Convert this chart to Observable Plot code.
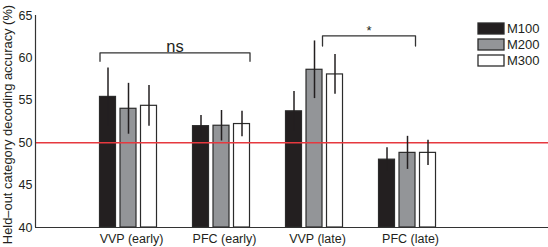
<!DOCTYPE html>
<html><head><meta charset="utf-8">
<script src="https://cdn.jsdelivr.net/npm/d3@7"></script>
<script src="https://cdn.jsdelivr.net/npm/@observablehq/plot@0.6"></script>
<style>
html,body{margin:0;padding:0;background:#fff;}
figure{margin:0;}
#wrap{position:relative;width:548px;height:247px;overflow:hidden;}
#legend{position:absolute;left:478px;top:21px;}
.lg-swatches{font:13px "Liberation Sans",Arial,sans-serif !important;color:#231f20 !important;margin:0 !important;}
.lg-swatch{padding-bottom:1px !important;line-height:15px;}
.lg-swatch svg{margin-right:3px !important;overflow:visible;}
.lg-swatch svg rect{stroke:#2b2b2b;stroke-width:1.3px;}
</style></head>
<body><div id="wrap"><div id="chart"></div><div id="legend"></div></div>
<script>
// ---- data ----
const groups = ["VVP (early)", "PFC (early)", "VVP (late)", "PFC (late)"];
const series = ["M100", "M200", "M300"];
const m100 = [55.4, 51.95, 53.7, 48.0];
const m200 = [54.0, 52.0, 58.6, 48.8];
const m300 = [54.35, 52.2, 58.05, 48.8];
const e100 = [3.4, 1.25, 2.35, 1.4];
const e200 = [3.0, 1.8, 3.4, 1.95];
const e300 = [2.4, 1.5, 2.35, 1.5];
const yTicks = [40, 45, 50, 55, 60, 65];
const chanceLevel = [50];
const sigLabels = ["ns", "*"];
const sigFrom = [["VVP (early)", "M100", "left"], ["VVP (late)", "M200", "right"]];
const sigTo = [["PFC (early)", "M300", "right"], ["PFC (late)", "M200", "right"]];
const sigLevels = [60.6, 62.6];
const sigDrops = [1.0, 1.2];
const yLabel = "Held–out category decoding accuracy (%)";

// ---- layout / style ----
const fills = ["#231f20", "#939598", "#ffffff"];
const xDomain = [-1, 4.516];
const yDomain = [40, 65];
const step = 20.5 / 93, bw = 16 / 93;

const means = [m100, m200, m300], errs = [e100, e200, e300];
const rows = series.flatMap((s, si) => groups.map((g, gi) => ({
  group: g, series: s, gi, si, mean: means[si][gi], err: errs[si][gi]
})));
const cx = d => d.gi + (d.si - 1) * step;
const edge = ([g, s, side]) => {
  const d = rows.find(r => r.group === g && r.series === s);
  return cx(d) + (side === "left" ? -bw / 2 : bw / 2);
};
const sig = sigLabels.map((label, i) => ({
  label, a: edge(sigFrom[i]), b: edge(sigTo[i]), level: sigLevels[i], drop: sigDrops[i]
}));
const bracketPts = sig.flatMap(s => [
  {label: s.label, x: s.a, y: s.level - s.drop},
  {label: s.label, x: s.a, y: s.level},
  {label: s.label, x: s.b, y: s.level},
  {label: s.label, x: s.b, y: s.level - s.drop}
]);

const chart = Plot.plot({
  width: 548, height: 247,
  marginLeft: 35, marginRight: 0, marginTop: 15, marginBottom: 20,
  style: {fontFamily: '"Liberation Sans", Arial, sans-serif', fontSize: "12px", color: "#231f20", background: "#fff", overflow: "visible"},
  x: {domain: xDomain},
  y: {domain: yDomain},
  color: {domain: series, range: fills},
  marks: [
    Plot.rectY(rows, {x1: d => cx(d) - bw / 2, x2: d => cx(d) + bw / 2, y1: yDomain[0], y2: "mean", fill: "series", stroke: "#2b2b2b", strokeWidth: 1.2}),
    Plot.ruleY(chanceLevel, {stroke: "#e6393f", strokeWidth: 1.5}),
    Plot.ruleX(rows, {x: cx, y1: d => d.mean - d.err, y2: d => d.mean + d.err, stroke: "#231f20", strokeWidth: 1.5}),
    Plot.line(bracketPts, {x: "x", y: "y", z: "label", stroke: "#333", strokeWidth: 1.3}),
    Plot.text(sig, {x: d => (d.a + d.b) / 2, y: "level", text: "label", lineAnchor: "bottom", dy: -1, fontSize: d => d.label === "ns" ? 16.5 : 13, fill: "#231f20"}),
    Plot.ruleY([yDomain[0]], {stroke: "#333", strokeWidth: 1.2}),
    Plot.ruleX([xDomain[0]], {stroke: "#333", strokeWidth: 1.2}),
    Plot.axisY({ticks: yTicks, tickSize: 0, tickPadding: 3, fontSize: 12.5, label: null}),
    Plot.text([yLabel], {frameAnchor: "left", rotate: -90, lineAnchor: "top", textAnchor: "middle", dx: -33, dy: 3, fontSize: 12.9, fill: "#231f20"}),
    Plot.axisX({ticks: [0, 1, 2, 3], tickFormat: i => groups[i], tickSize: 0, tickPadding: 7, fontSize: 12.5, dx: 3, label: null})
  ]
});
document.getElementById("chart").appendChild(chart);

const legend = Plot.legend({
  color: {domain: series, range: fills},
  legend: "swatches", columns: 1, swatchWidth: 26, swatchHeight: 11, className: "lg"
});
document.getElementById("legend").appendChild(legend);
</script>
</body></html>
